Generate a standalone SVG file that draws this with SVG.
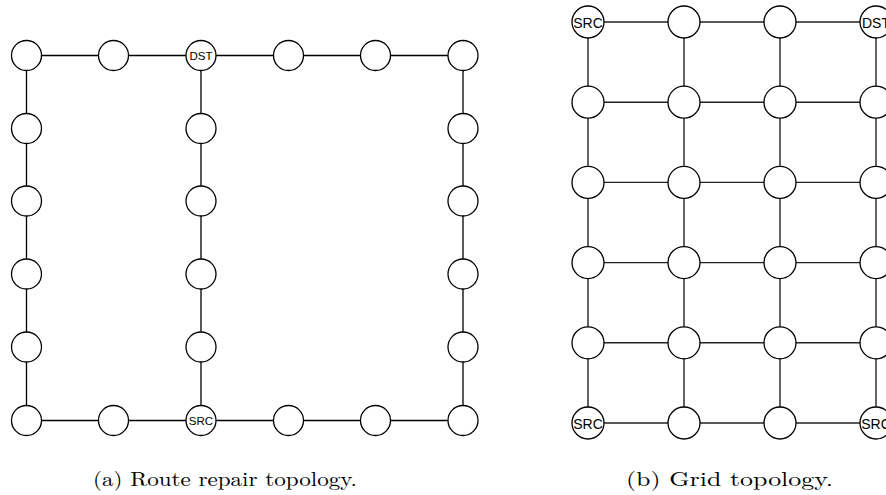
<svg xmlns="http://www.w3.org/2000/svg" width="886" height="495" viewBox="0 0 886 495">
<style>
.e{stroke:#000;stroke-width:1.3;fill:none}
.g{stroke:#222;stroke-width:1.4;fill:none}
.n{fill:#fff;stroke:#000;stroke-width:1.3}
.l{font-family:"Liberation Sans",Arial,sans-serif;font-size:11.5px;fill:#000;text-anchor:middle;dominant-baseline:central}
.L{font-family:"Liberation Sans",Arial,sans-serif;font-size:14px;fill:#000;text-anchor:middle;dominant-baseline:central}
.c{font-family:"Latin Modern Roman","Liberation Serif","Times New Roman",serif;font-size:20px;fill:#000;text-anchor:middle}
</style>
<defs>
<circle id="s" r="15" class="n"/>
<circle id="b" r="16" class="n"/>
</defs>
<g id="edges-a">
<path class="e" d="M26.5 55.5H463M26.5 420.5H463M26.5 55.5V420.5M201 55.5V420.5M463 55.5V420.5"/>
</g>
<g id="edges-b">
<path class="g" d="M588 22H876M588 102.2H876M588 182.4H876M588 262.6H876M588 342.8H876M588 423H876M588 22V423M684 22V423M780 22V423M876 22V423"/>
</g>
<g id="nodes-a">
<g id="a00"><use href="#s" x="26.5" y="55.5"/></g>
<g id="a01"><use href="#s" x="113.5" y="55.5"/></g>
<g id="a02"><use href="#s" x="201" y="55.5"/><text class="l" x="201" y="56">DST</text></g>
<g id="a03"><use href="#s" x="288.5" y="55.5"/></g>
<g id="a04"><use href="#s" x="375.5" y="55.5"/></g>
<g id="a05"><use href="#s" x="463" y="55.5"/></g>
<g id="a10"><use href="#s" x="26.5" y="128.5"/></g>
<g id="a12"><use href="#s" x="201" y="128.5"/></g>
<g id="a15"><use href="#s" x="463" y="128.5"/></g>
<g id="a20"><use href="#s" x="26.5" y="201"/></g>
<g id="a22"><use href="#s" x="201" y="201"/></g>
<g id="a25"><use href="#s" x="463" y="201"/></g>
<g id="a30"><use href="#s" x="26.5" y="274"/></g>
<g id="a32"><use href="#s" x="201" y="274"/></g>
<g id="a35"><use href="#s" x="463" y="274"/></g>
<g id="a40"><use href="#s" x="26.5" y="347"/></g>
<g id="a42"><use href="#s" x="201" y="347"/></g>
<g id="a45"><use href="#s" x="463" y="347"/></g>
<g id="a50"><use href="#s" x="26.5" y="420.5"/></g>
<g id="a51"><use href="#s" x="113.5" y="420.5"/></g>
<g id="a52"><use href="#s" x="201" y="420.5"/><text class="l" x="201" y="421">SRC</text></g>
<g id="a53"><use href="#s" x="288.5" y="420.5"/></g>
<g id="a54"><use href="#s" x="375.5" y="420.5"/></g>
<g id="a55"><use href="#s" x="463" y="420.5"/></g>
</g>
<g id="nodes-b">
<g id="b00"><use href="#b" x="588" y="22"/><text class="L" x="588" y="22.5">SRC</text></g>
<g id="b01"><use href="#b" x="684" y="22"/></g>
<g id="b02"><use href="#b" x="780" y="22"/></g>
<g id="b03"><use href="#b" x="876" y="22"/><text class="L" x="876" y="22.5">DST</text></g>
<g id="b10"><use href="#b" x="588" y="102.2"/></g>
<g id="b11"><use href="#b" x="684" y="102.2"/></g>
<g id="b12"><use href="#b" x="780" y="102.2"/></g>
<g id="b13"><use href="#b" x="876" y="102.2"/></g>
<g id="b20"><use href="#b" x="588" y="182.4"/></g>
<g id="b21"><use href="#b" x="684" y="182.4"/></g>
<g id="b22"><use href="#b" x="780" y="182.4"/></g>
<g id="b23"><use href="#b" x="876" y="182.4"/></g>
<g id="b30"><use href="#b" x="588" y="262.6"/></g>
<g id="b31"><use href="#b" x="684" y="262.6"/></g>
<g id="b32"><use href="#b" x="780" y="262.6"/></g>
<g id="b33"><use href="#b" x="876" y="262.6"/></g>
<g id="b40"><use href="#b" x="588" y="342.8"/></g>
<g id="b41"><use href="#b" x="684" y="342.8"/></g>
<g id="b42"><use href="#b" x="780" y="342.8"/></g>
<g id="b43"><use href="#b" x="876" y="342.8"/></g>
<g id="b50"><use href="#b" x="588" y="423"/><text class="L" x="588" y="423.5">SRC</text></g>
<g id="b51"><use href="#b" x="684" y="423"/></g>
<g id="b52"><use href="#b" x="780" y="423"/></g>
<g id="b53"><use href="#b" x="876" y="423"/><text class="L" x="876" y="423.5">SRC</text></g>
</g>
<g id="captions">
<text class="c" x="225" y="486" textLength="264" lengthAdjust="spacingAndGlyphs">(a) Route repair topology.</text>
<text class="c" x="729.5" y="486" textLength="207" lengthAdjust="spacingAndGlyphs">(b) Grid topology.</text>
</g>
</svg>
